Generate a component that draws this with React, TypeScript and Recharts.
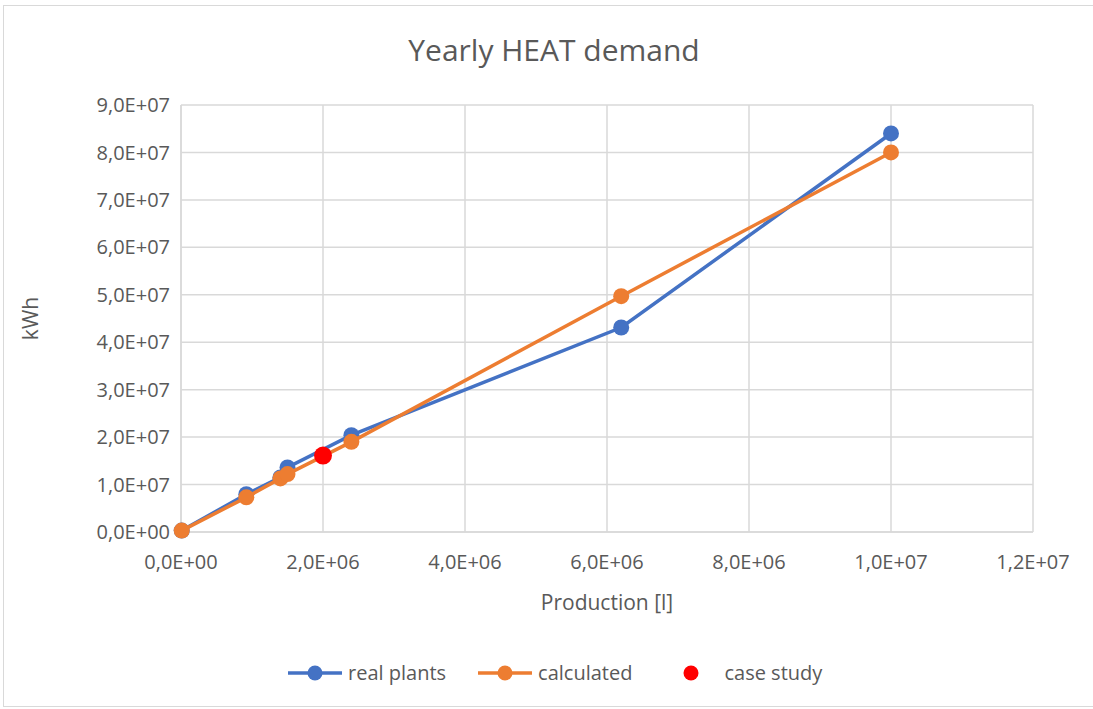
import { CartesianGrid, Label, Scatter, ScatterChart, XAxis, YAxis } from 'recharts'

const FONT = '"Open Sans", "Liberation Sans", sans-serif'
const TEXT = '#595959'
const GRID = '#d9d9d9'

// production [l]
const production = [10000, 920000, 1400000, 1500000, 2400000, 6200000, 10000000]
// heat demand [kWh]
const realPlants = [300000, 7950000, 11500000, 13600000, 20400000, 43100000, 84000000]
const calculated = [300000, 7300000, 11300000, 12200000, 19000000, 49700000, 80000000]
const caseStudyX = [2000000]
const caseStudyY = [16100000]

const xTicks = [0, 2e6, 4e6, 6e6, 8e6, 10e6, 12e6]
const yTicks = [0, 1e7, 2e7, 3e7, 4e7, 5e7, 6e7, 7e7, 8e7, 9e7]

const realData = production.map((x, i) => ({ x, y: realPlants[i] }))
const calcData = production.map((x, i) => ({ x, y: calculated[i] }))
const caseData = caseStudyX.map((x, i) => ({ x, y: caseStudyY[i] }))

// Excel style: 9,0E+07
function sci(v: number) {
  if (v === 0) return '0,0E+00'
  const exp = Math.floor(Math.log10(Math.abs(v)))
  const m = v / Math.pow(10, exp)
  return `${m.toFixed(1).replace('.', ',')}E+${String(exp).padStart(2, '0')}`
}

const dot = (color: string, r = 8) => (p: any) => <circle cx={p.cx} cy={p.cy} r={r} fill={color} />

function LegendItem({ color, label, line }: { color: string; label: string; line: boolean }) {
  return (
    <div style={{ display: 'flex', alignItems: 'center' }}>
      <svg width={54} height={20}>
        {line && <line x1={0} x2={54} y1={10} y2={10} stroke={color} strokeWidth={3.5} />}
        <circle cx={27} cy={10} r={7.5} fill={color} />
      </svg>
      <span style={{ marginLeft: 6 }}>{label}</span>
    </div>
  )
}

export default function App() {
  return (
    <div style={{ position: 'absolute', left: 0, top: 0, width: 1093, height: 709, background: '#fff', fontFamily: FONT, overflow: 'hidden' }}>
      <div style={{ position: 'absolute', left: 3, top: 5, width: 1100, height: 700, border: `1px solid ${GRID}` }} />
      <div style={{ position: 'absolute', left: 0, top: 35, width: 1108, textAlign: 'center', fontSize: 30, lineHeight: '30px', color: TEXT }}>
        Yearly HEAT demand
      </div>
      <div style={{ position: 'absolute', left: 0, top: 0 }}>
        <ScatterChart width={1093} height={709} margin={{ top: 105, right: 60, bottom: 97, left: 0 }}>
          <CartesianGrid stroke={GRID} strokeWidth={1.5} />
          <XAxis
            type="number"
            dataKey="x"
            domain={[0, 12e6]}
            ticks={xTicks}
            tickFormatter={sci}
            height={80}
            tickLine={false}
            tickSize={0}
            tickMargin={23}
            axisLine={{ stroke: GRID, strokeWidth: 1.5 }}
            tick={{ fill: TEXT, fontSize: 20, fontFamily: FONT }}
          >
            <Label
              content={({ viewBox }: any) => (
                <text x={viewBox.x + viewBox.width / 2} y={viewBox.y + 78} textAnchor="middle" fill={TEXT} fontSize={21} fontFamily={FONT}>
                  Production [l]
                </text>
              )}
            />
          </XAxis>
          <YAxis
            type="number"
            dataKey="y"
            domain={[0, 9e7]}
            ticks={yTicks}
            tickFormatter={sci}
            width={181}
            tickLine={false}
            tickSize={0}
            tickMargin={11}
            axisLine={{ stroke: GRID, strokeWidth: 1.5 }}
            tick={{ fill: TEXT, fontSize: 20, fontFamily: FONT }}
          >
            <Label
              content={({ viewBox }: any) => {
                const cx = viewBox.x + 38
                const cy = viewBox.y + viewBox.height / 2
                return (
                  <text x={cx} y={cy} transform={`rotate(-90 ${cx} ${cy})`} textAnchor="middle" fill={TEXT} fontSize={21} fontFamily={FONT}>
                    kWh
                  </text>
                )
              }}
            />
          </YAxis>
          <Scatter name="real plants" data={realData} line={{ stroke: '#4472C4', strokeWidth: 3.5 }} shape={dot('#4472C4')} isAnimationActive={false} />
          <Scatter name="calculated" data={calcData} line={{ stroke: '#ED7D31', strokeWidth: 3.5 }} shape={dot('#ED7D31')} isAnimationActive={false} />
          <Scatter name="case study" data={caseData} shape={dot('#FF0000', 9)} isAnimationActive={false} />
        </ScatterChart>
      </div>
      <div style={{ position: 'absolute', left: 288, top: 660, display: 'flex', gap: 32, fontSize: 20, color: TEXT, lineHeight: '26px' }}>
        <LegendItem color="#4472C4" label="real plants" line />
        <LegendItem color="#ED7D31" label="calculated" line />
        <LegendItem color="#FF0000" label="case study" line={false} />
      </div>
    </div>
  )
}
